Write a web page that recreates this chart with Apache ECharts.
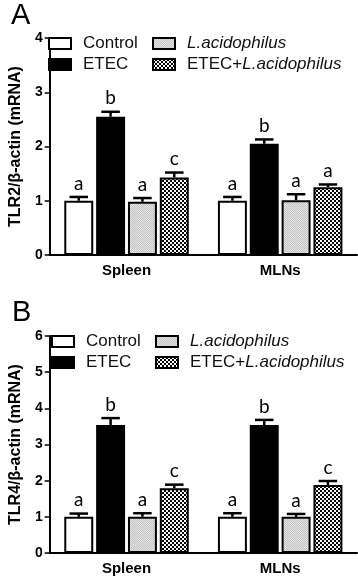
<!DOCTYPE html>
<html lang="en">

<head>
    <meta charset="UTF-8">
    <title>TLR2 / TLR4 mRNA</title>
    <script src="https://cdn.jsdelivr.net/npm/echarts@6.0.0/dist/echarts.min.js"></script>
    <style>
        body {
            margin: 0;
            background: #fff;
        }

        #root {
            width: 358px;
            height: 580px;
        }
    </style>
</head>

<body>

    <div id="root"></div>
    <script>

        // categories and groups
        var tissues = ['Spleen', 'MLNs'];
        var groupNames = ['Control', 'ETEC', 'L.acidophilus', 'ETEC+L.acidophilus'];

        // panel A: TLR2 (mean, SEM, letters) per group, [Spleen, MLNs]
        var tlr2Control = [1.00, 1.00];
        var tlr2Etec = [2.55, 2.05];
        var tlr2La = [0.98, 1.01];
        var tlr2EtecLa = [1.43, 1.25];
        var tlr2ControlErr = [0.07, 0.07];
        var tlr2EtecErr = [0.09, 0.08];
        var tlr2LaErr = [0.07, 0.11];
        var tlr2EtecLaErr = [0.09, 0.05];
        var tlr2Letters = [['a', 'a'], ['b', 'b'], ['a', 'a'], ['c', 'a']];

        // panel B: TLR4
        var tlr4Control = [1.00, 1.00];
        var tlr4Etec = [3.54, 3.54];
        var tlr4La = [1.00, 1.00];
        var tlr4EtecLa = [1.79, 1.88];
        var tlr4ControlErr = [0.09, 0.10];
        var tlr4EtecErr = [0.19, 0.14];
        var tlr4LaErr = [0.10, 0.08];
        var tlr4EtecLaErr = [0.10, 0.11];
        var tlr4Letters = [['a', 'a'], ['b', 'b'], ['a', 'a'], ['c', 'c']];

        var tlr2Ticks = [0, 1, 2, 3, 4];
        var tlr4Ticks = [0, 1, 2, 3, 4, 5, 6];

        var FONT = '"Liberation Sans", Arial, sans-serif';
        var CAT_GAP = 0.19;
        var BAR_GAP = 0.10;

        // fill patterns
        function makePattern(size, draw) {
            var c = document.createElement('canvas');
            c.width = size;
            c.height = size;
            draw(c.getContext('2d'));
            return { image: c, repeat: 'repeat' };
        }
        var dotted = makePattern(2, function (ctx) {
            ctx.fillStyle = '#e4e4e4';
            ctx.fillRect(0, 0, 2, 2);
            ctx.fillStyle = '#c4c4c4';
            ctx.fillRect(0, 0, 1, 1);
            ctx.fillRect(1, 1, 1, 1);
        });
        var checker = makePattern(4, function (ctx) {
            ctx.fillStyle = '#000';
            ctx.fillRect(0, 0, 4, 4);
            ctx.fillStyle = '#fff';
            ctx.fillRect(0, 0, 2, 2);
            ctx.fillRect(2, 2, 2, 2);
        });
        var fills = ['#fff', '#000', dotted, checker];

        var myChart = echarts.init(document.getElementById('root'), null, { renderer: 'canvas' });

        function barSeries(idx, name, values) {
            return {
                type: 'bar',
                name: name,
                xAxisIndex: idx,
                yAxisIndex: idx,
                data: values,
                barCategoryGap: (CAT_GAP * 100) + '%',
                barGap: (BAR_GAP * 100) + '%',
                itemStyle: {
                    color: fills[groupNames.indexOf(name)],
                    borderColor: '#000',
                    borderWidth: 2
                },
                z: 2
            };
        }

        // error bar (upper only) + significance letter
        function errSeries(idx, k, means, errs, letters) {
            var data = means.map(function (m, i) {
                return [i, m, errs[i]];
            });
            return {
                type: 'custom',
                name: 'err' + idx + '_' + k,
                xAxisIndex: idx,
                yAxisIndex: idx,
                data: data,
                encode: { x: 0, y: 1 },
                z: 5,
                renderItem: function (params, api) {
                    var ci = api.value(0);
                    var band = api.size([1, 0])[0];
                    var w = band * (1 - CAT_GAP) / (4 + 3 * BAR_GAP);
                    var cx = api.coord([ci, 0])[0] + (k - 1.5) * w * (1 + BAR_GAP);
                    var yBar = api.coord([ci, api.value(1)])[1];
                    var yTop = api.coord([ci, api.value(1) + api.value(2)])[1];
                    var capHalf = w * 0.32;
                    return {
                        type: 'group',
                        children: [{
                            type: 'line',
                            shape: { x1: cx, y1: yBar, x2: cx, y2: yTop },
                            style: { stroke: '#000', lineWidth: 2.5 }
                        }, {
                            type: 'line',
                            shape: { x1: cx - capHalf, y1: yTop, x2: cx + capHalf, y2: yTop },
                            style: { stroke: '#000', lineWidth: 2.5 }
                        }, {
                            type: 'text',
                            style: {
                                text: letters[k][params.dataIndex],
                                x: cx,
                                y: yTop - 4,
                                textAlign: 'center',
                                textVerticalAlign: 'bottom',
                                fontFamily: 'Lato, sans-serif',
                                fontSize: 19,
                                fill: '#000'
                            }
                        }]
                    };
                }
            };
        }

        function legendCol(left, top, names) {
            return {
                orient: 'vertical',
                left: left,
                top: top,
                padding: 0,
                itemGap: 4,
                itemWidth: 22,
                itemHeight: 11,
                icon: 'rect',
                selectedMode: false,
                data: names,
                itemStyle: { borderColor: '#000', borderWidth: 2 },
                formatter: function (name) {
                    if (name === 'L.acidophilus') return '{i|L.acidophilus}';
                    if (name === 'ETEC+L.acidophilus') return '{n|ETEC+}{i|L.acidophilus}';
                    return '{n|' + name + '}';
                },
                textStyle: {
                    padding: [0, 0, 0, 7],
                    rich: {
                        n: { fontFamily: FONT, fontSize: 17, color: '#111', lineHeight: 19 },
                        i: { fontFamily: FONT, fontSize: 17, fontStyle: 'italic', color: '#111', lineHeight: 19 }
                    }
                }
            };
        }

        function xAxisDef(idx) {
            return {
                type: 'category',
                gridIndex: idx,
                data: tissues,
                axisLine: { lineStyle: { color: '#000', width: 2 } },
                axisTick: { alignWithLabel: true, length: 5, lineStyle: { color: '#000', width: 1.5 } },
                axisLabel: { color: '#000', fontFamily: FONT, fontWeight: 'bold', fontSize: 15, margin: 8 }
            };
        }

        function yAxisDef(idx, name, ticks) {
            return {
                type: 'value',
                gridIndex: idx,
                min: ticks[0],
                max: ticks[ticks.length - 1],
                interval: ticks[1] - ticks[0],
                name: name,
                nameLocation: 'middle',
                nameGap: 22,
                nameTextStyle: { color: '#000', fontFamily: FONT, fontWeight: 'bold', fontSize: 16 },
                axisLine: { show: true, lineStyle: { color: '#000', width: 2 } },
                axisTick: { show: true, length: 5, lineStyle: { color: '#000', width: 1.5 } },
                axisLabel: { color: '#000', fontFamily: FONT, fontWeight: 'bold', fontSize: 14, margin: 7 },
                splitLine: { show: false }
            };
        }

        var aMeans = [tlr2Control, tlr2Etec, tlr2La, tlr2EtecLa];
        var aErrs = [tlr2ControlErr, tlr2EtecErr, tlr2LaErr, tlr2EtecLaErr];
        var bMeans = [tlr4Control, tlr4Etec, tlr4La, tlr4EtecLa];
        var bErrs = [tlr4ControlErr, tlr4EtecErr, tlr4LaErr, tlr4EtecLaErr];

        var series = [];
        groupNames.forEach(function (g, k) {
            series.push(barSeries(0, g, aMeans[k]));
            series.push(barSeries(1, g, bMeans[k]));
        });
        groupNames.forEach(function (g, k) {
            series.push(errSeries(0, k, aMeans[k], aErrs[k], tlr2Letters));
            series.push(errSeries(1, k, bMeans[k], bErrs[k], tlr4Letters));
        });

        myChart.setOption({
            animation: false,
            grid: [
                { left: 44, top: 38, width: 313, height: 217 },
                { left: 46, top: 336, width: 311, height: 217 }
            ],
            xAxis: [xAxisDef(0), xAxisDef(1)],
            yAxis: [
                yAxisDef(0, 'TLR2/β-actin (mRNA)', tlr2Ticks),
                yAxisDef(1, 'TLR4/β-actin (mRNA)', tlr4Ticks)
            ],
            legend: [
                legendCol(48, 35, ['Control', 'ETEC']),
                legendCol(152, 35, ['L.acidophilus', 'ETEC+L.acidophilus']),
                legendCol(51, 333, ['Control', 'ETEC']),
                legendCol(155, 333, ['L.acidophilus', 'ETEC+L.acidophilus'])
            ],
            graphic: [
                { type: 'text', left: 11, top: 1, style: { text: 'A', fontFamily: FONT, fontSize: 29, fill: '#000' } },
                { type: 'text', left: 12, top: 298, style: { text: 'B', fontFamily: FONT, fontSize: 29, fill: '#000' } }
            ],
            series: series
        });

    </script>

</body>

</html>
